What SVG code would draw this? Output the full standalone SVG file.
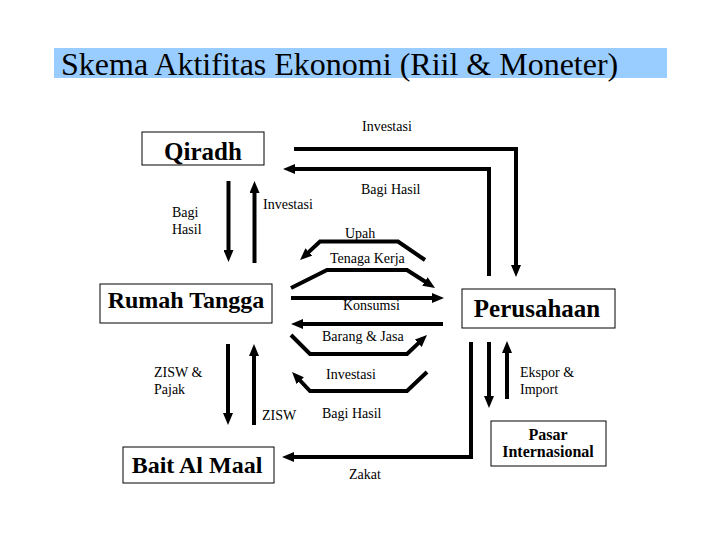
<svg xmlns="http://www.w3.org/2000/svg" width="720" height="540" viewBox="0 0 720 540">
<defs>
<style>
.box{fill:#fff;stroke:#000;stroke-width:1}
.node{font-family:'Liberation Serif','DejaVu Serif',serif;font-weight:bold;fill:#000;text-anchor:middle}
.lbl{font-family:'Liberation Serif','DejaVu Serif',serif;font-size:14px;fill:#000}
.ttl{font-family:'Liberation Serif','DejaVu Serif',serif;font-size:32px;fill:#000}
.con{fill:none;stroke:#000;stroke-width:4;stroke-linejoin:miter;marker-end:url(#ah)}
</style>
<marker id="ah" markerWidth="12" markerHeight="10" refX="1" refY="5" orient="auto" markerUnits="userSpaceOnUse">
<path d="M0,0 L12,5 L0,10 z" fill="#000"/>
</marker>
</defs>
<rect width="720" height="540" fill="#fff"/>
<g id="title">
<rect x="54" y="48" width="613" height="30" fill="#99CCFF"/>
<text class="ttl" x="61" y="75">Skema Aktifitas Ekonomi (Riil &amp; Moneter)</text>
</g>
<g id="qiradh">
<rect class="box" x="142" y="132" width="122" height="33"/>
<text class="node" x="203" y="160" font-size="25">Qiradh</text>
</g>
<g id="rumah-tangga">
<rect class="box" x="100" y="284" width="172" height="39"/>
<text class="node" x="186" y="308" font-size="24">Rumah Tangga</text>
</g>
<g id="perusahaan">
<rect class="box" x="462" y="289" width="153" height="39"/>
<text class="node" x="537" y="317" font-size="25">Perusahaan</text>
</g>
<g id="bait-al-maal">
<rect class="box" x="123" y="447" width="151" height="36"/>
<text class="node" x="197" y="473" font-size="24">Bait Al Maal</text>
</g>
<g id="pasar-internasional">
<rect class="box" x="491" y="421" width="115" height="45"/>
<text class="node" x="548" y="440" font-size="16">Pasar</text>
<text class="node" x="548" y="457" font-size="16">Internasional</text>
</g>
<g id="connectors">
<path class="con" d="M294,149 H516 V266"/>
<path class="con" d="M489,276 V169 H294"/>
<path class="con" d="M228.5,181 V251"/>
<path class="con" d="M254.5,263 V192"/>
<path class="con" d="M425,260 L398,241.5 H320 L308.1,252.6"/>
<path class="con" d="M291,288 L327,270 H407 L425.75,282"/>
<path class="con" d="M291,298 H433"/>
<path class="con" d="M443,324 H302"/>
<path class="con" d="M291,335 L310,354 H407 L419,342.6"/>
<path class="con" d="M427,372 L407,391 H310 L299.6,380"/>
<path class="con" d="M228,344 V414"/>
<path class="con" d="M254,425 V355"/>
<path class="con" d="M471,342 V457 H293"/>
<path class="con" d="M489,342 V397"/>
<path class="con" d="M507,399 V352"/>
</g>
<g id="labels">
<text class="lbl" x="362" y="131">Investasi</text>
<text class="lbl" x="361" y="194">Bagi Hasil</text>
<text class="lbl" x="172" y="217">Bagi</text>
<text class="lbl" x="172" y="234">Hasil</text>
<text class="lbl" x="263" y="209">Investasi</text>
<text class="lbl" x="345" y="238">Upah</text>
<text class="lbl" x="330" y="263">Tenaga Kerja</text>
<text class="lbl" x="343" y="310">Konsumsi</text>
<text class="lbl" x="322" y="341">Barang &amp; Jasa</text>
<text class="lbl" x="154" y="377">ZISW &amp;</text>
<text class="lbl" x="154" y="394">Pajak</text>
<text class="lbl" x="326" y="379">Investasi</text>
<text class="lbl" x="262" y="420">ZISW</text>
<text class="lbl" x="322" y="418">Bagi Hasil</text>
<text class="lbl" x="349" y="479">Zakat</text>
<text class="lbl" x="520" y="377">Ekspor &amp;</text>
<text class="lbl" x="520" y="394">Import</text>
</g>
</svg>
